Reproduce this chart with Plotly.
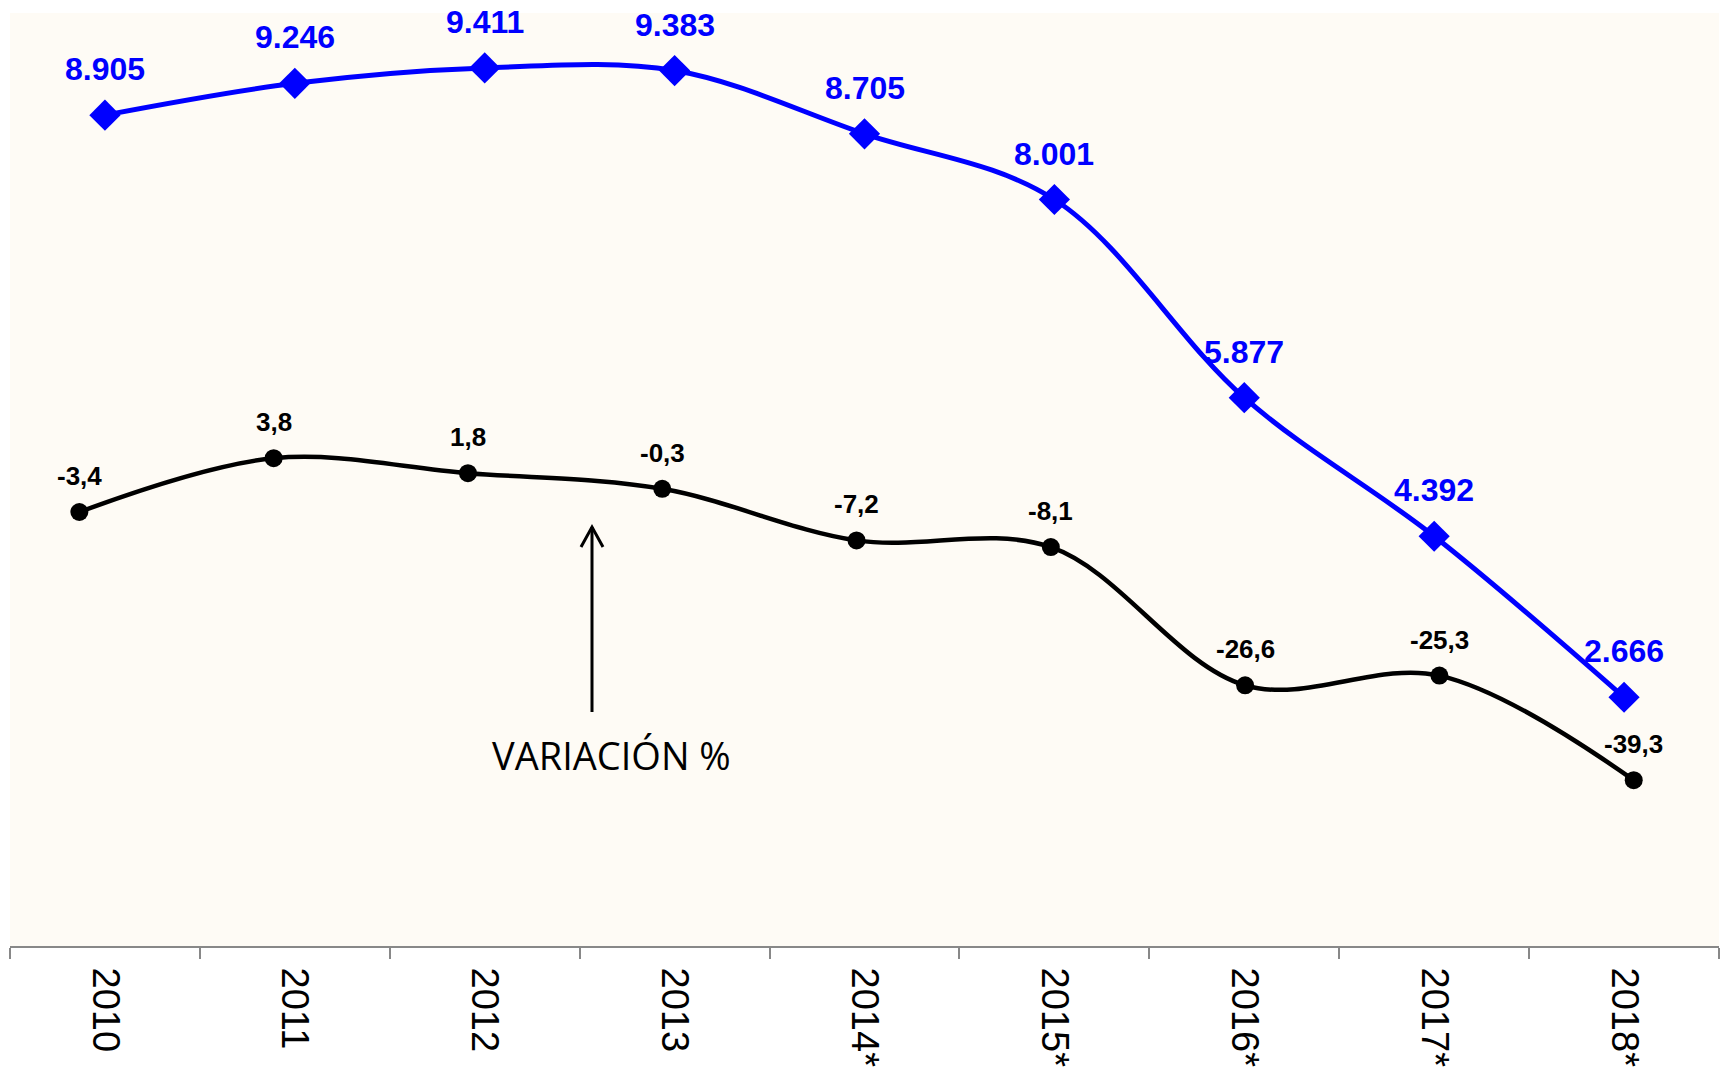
import plotly.graph_objects as go

categories = ["2010", "2011", "2012", "2013", "2014*", "2015*", "2016*", "2017*", "2018*"]
volumen = [8905, 9246, 9411, 9383, 8705, 8001, 5877, 4392, 2666]
variacion = [-3.4, 3.8, 1.8, -0.3, -7.2, -8.1, -26.6, -25.3, -39.3]

W, H = 1723, 1071
L, R, T, B = 10, 4, 13, 125
PW, PH = W - L - R, H - T - B


def px2paper(px, py):
    return (px - L) / PW, (H - B - py) / PH


def fmt_thousands(v):
    return f"{v:,}".replace(",", ".")


def fmt_dec(v):
    return f"{v:.1f}".replace(".", ",")


BLUE = "#0000FF"
idx = list(range(len(categories)))
fig = go.Figure()

fig.add_trace(go.Scatter(
    x=categories, y=volumen, mode="lines+markers",
    line=dict(color=BLUE, width=5, shape="spline", smoothing=1),
    marker=dict(symbol="diamond", size=24, color=BLUE),
    xaxis="x", yaxis="y", hoverinfo="skip", showlegend=False,
))

fig.add_trace(go.Scatter(
    x=idx, y=variacion, mode="lines+markers",
    line=dict(color="#000000", width=4.5, shape="spline", smoothing=1),
    marker=dict(symbol="circle", size=18, color="#000000"),
    xaxis="x2", yaxis="y2", hoverinfo="skip", showlegend=False,
))

annotations = []
for i, v in zip(idx, volumen):
    annotations.append(dict(
        x=i, y=v, xref="x", yref="y", text="<b>" + fmt_thousands(v) + "</b>", showarrow=False,
        yshift=46, font=dict(family="Liberation Sans, Arial", size=32, color=BLUE),
        xanchor="center", yanchor="middle",
    ))
for i, v in zip(idx, variacion):
    annotations.append(dict(
        x=i, y=v, xref="x2", yref="y2", text="<b>" + fmt_dec(v) + "</b>", showarrow=False,
        yshift=36, font=dict(family="Liberation Sans, Arial", size=26, color="#000000"),
        xanchor="center", yanchor="middle",
    ))

tx, ty = px2paper(611, 755)
annotations.append(dict(
    x=tx, y=ty, xref="paper", yref="paper", text="VARIACIÓN %", showarrow=False,
    font=dict(family="Open Sans", size=38, color="#000000"),
    xanchor="center", yanchor="middle",
))

# arrow
x0, y0 = px2paper(592, 712)
x1, y1 = px2paper(592, 527)
xl, yl = px2paper(581, 547)
xr, yr = px2paper(603, 547)
shapes = [
    dict(type="line", xref="paper", yref="paper", x0=x0, y0=y0, x1=x1, y1=y1,
         line=dict(color="#000000", width=3)),
    dict(type="path", xref="paper", yref="paper",
         path=f"M {xl},{yl} L {x1},{y1} L {xr},{yr}",
         line=dict(color="#000000", width=3)),
]

fig.update_layout(
    width=W, height=H,
    margin=dict(l=L, r=R, t=T, b=B, pad=0),
    paper_bgcolor="#FFFFFF",
    plot_bgcolor="#FEFBF5",
    showlegend=False,
    annotations=annotations,
    shapes=shapes,
    xaxis=dict(
        type="category", range=[-0.5, 8.5], tickson="boundaries",
        ticks="outside", ticklen=11, tickwidth=2, tickcolor="#888888",
        showline=True, linecolor="#888888", linewidth=2,
        showgrid=False, zeroline=False, tickangle=90, ticklabelstandoff=12,
        tickfont=dict(family="Liberation Sans, Arial", size=38, color="#000000"),
    ),
    yaxis=dict(range=[0, 10000], visible=False, showgrid=False, zeroline=False),
    xaxis2=dict(overlaying="x", range=[-0.357, 8.439], visible=False),
    yaxis2=dict(overlaying="y", range=[-61.5, 63.4], visible=False),
)

fig.write_html(
    "out.html",
    config={"displayModeBar": False},
    post_script="document.body.style.margin='0';document.body.style.overflow='hidden';",
)
